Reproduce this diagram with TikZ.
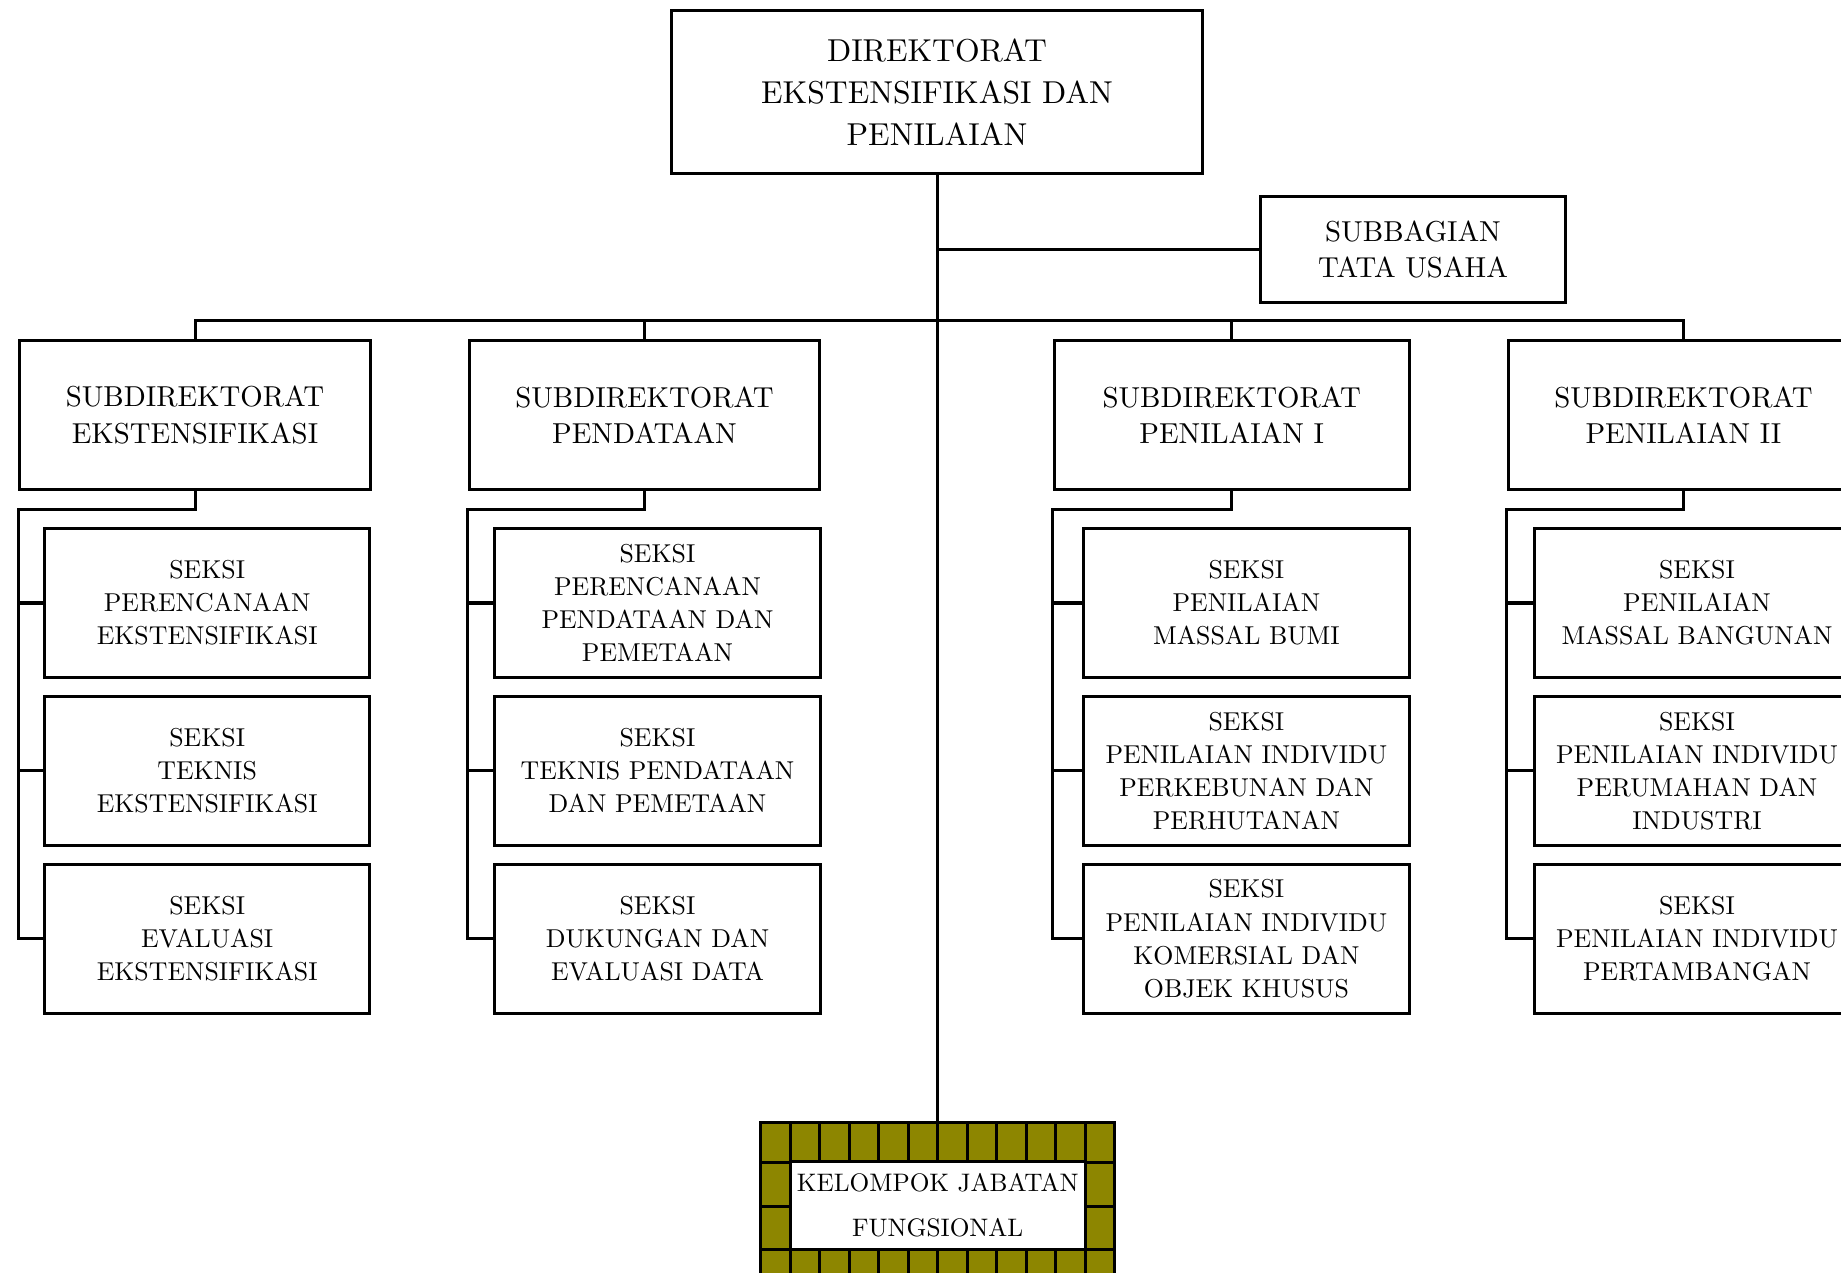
\documentclass[tikz,border=0pt]{standalone}
\usepackage{fontspec}
\setmainfont{lmroman10-regular}[Extension=.otf]
\usepackage{tikz}
\usetikzlibrary{positioning}
\usetikzlibrary{calc}

\tikzset{
  kotak/.style={draw, line width=0.03cm, align=center, inner sep=0pt, fill=white},
  direktorat/.style={kotak, minimum width=5.31cm, minimum height=1.63cm, font=\fontsize{9}{11.9}\selectfont},
  subdit/.style={kotak, minimum width=3.5cm, minimum height=1.49cm, font=\fontsize{8.2}{10.35}\selectfont},
  seksi/.style={kotak, minimum width=3.25cm, minimum height=1.49cm, font=\fontsize{7.35}{9.4}\selectfont},
  garis/.style={line width=0.03cm},
}

\begin{document}
\begin{tikzpicture}[x=0.01cm,y=-0.01cm]
  \useasboundingbox (0,0) rectangle (1841,1273);

  % pimpinan
  \node[direktorat] (dir) at (937,92) {DIREKTORAT\\EKSTENSIFIKASI DAN\\PENILAIAN};
  \node[subdit, minimum width=3.04cm, minimum height=1.05cm] (sb) at (1413,249.5) {SUBBAGIAN\\TATA USAHA};

  % subdirektorat
  \node[subdit] (sd1) at (195,415) {SUBDIREKTORAT\\EKSTENSIFIKASI};
  \node[subdit] (sd2) at (644.5,415) {SUBDIREKTORAT\\PENDATAAN};
  \node[subdit, minimum width=3.55cm] (sd3) at (1231.7,415) {SUBDIREKTORAT\\PENILAIAN I};
  \node[subdit] (sd4) at (1683.5,415) {SUBDIREKTORAT\\PENILAIAN II};

  % seksi
  \node[seksi] (sk11) at (207.2,603) {SEKSI\\PERENCANAAN\\EKSTENSIFIKASI};
  \node[seksi] (sk12) at (207.2,770.8) {SEKSI\\TEKNIS\\EKSTENSIFIKASI};
  \node[seksi] (sk13) at (207.2,938.7) {SEKSI\\EVALUASI\\EKSTENSIFIKASI};

  \node[seksi] (sk21) at (657.5,603) {SEKSI\\PERENCANAAN\\PENDATAAN DAN\\PEMETAAN};
  \node[seksi] (sk22) at (657.5,770.8) {SEKSI\\TEKNIS PENDATAAN\\DAN PEMETAAN};
  \node[seksi] (sk23) at (657.5,938.7) {SEKSI\\DUKUNGAN DAN\\EVALUASI DATA};

  \node[seksi] (sk31) at (1246.4,603) {SEKSI\\PENILAIAN\\MASSAL BUMI};
  \node[seksi] (sk32) at (1246.4,770.8) {SEKSI\\PENILAIAN INDIVIDU\\PERKEBUNAN DAN\\PERHUTANAN};
  \node[seksi] (sk33) at (1246.4,938.7) {SEKSI\\PENILAIAN INDIVIDU\\KOMERSIAL DAN\\OBJEK KHUSUS};

  \node[seksi] (sk41) at (1697,603) {SEKSI\\PENILAIAN\\MASSAL BANGUNAN};
  \node[seksi] (sk42) at (1697,770.8) {SEKSI\\PENILAIAN INDIVIDU\\PERUMAHAN DAN\\INDUSTRI};
  \node[seksi] (sk43) at (1697,938.7) {SEKSI\\PENILAIAN INDIVIDU\\PERTAMBANGAN};

  % kelompok jabatan fungsional
  \node[draw, garis, fill=olive, minimum width=3.54cm, minimum height=1.69cm, inner sep=0pt] (kjfbingkai) at (937.7,1207.5) {};
  \foreach \i in {1,...,11}
    \draw[garis] (760.7+29.5*\i,1123) -- ++(0,169);
  \foreach \y in {1162,1206,1249}
    \draw[garis] (760.7,\y) -- (1114.7,\y);
  \node[kotak, minimum width=2.95cm, minimum height=0.87cm, font=\fontsize{7.2}{12.7}\selectfont] (kjf) at (937.7,1205.5) {KELOMPOK JABATAN\\FUNGSIONAL};

  % garis
  \draw[garis] (dir.south) -- (dir.south |- kjfbingkai.north);
  \draw[garis] (sb.west) -- (sb.west -| dir.south);
  \coordinate (bus) at (937,320.5);
  \draw[garis] (sd1.north) |- (bus) -| (sd4.north);
  \draw[garis] (sd2.north) -- (sd2.north |- bus);
  \draw[garis] (sd3.north) -- (sd3.north |- bus);
  \foreach \k in {1,...,4} {
    \draw[garis] (sd\k.south) -- ++(0,18.8) -| (sd\k.west |- sk\k3.west) -- (sk\k3.west);
    \draw[garis] (sd\k.west |- sk\k1.west) -- (sk\k1.west);
    \draw[garis] (sd\k.west |- sk\k2.west) -- (sk\k2.west);
  }
\end{tikzpicture}
\end{document}
